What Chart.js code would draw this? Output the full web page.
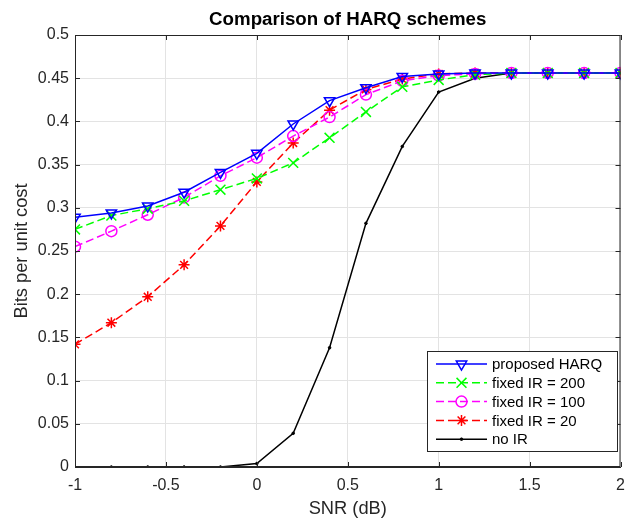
<!DOCTYPE html>
<html>
<head>
<meta charset="utf-8">
<title>Comparison of HARQ schemes</title>
<script src="https://cdn.jsdelivr.net/npm/chart.js@4/dist/chart.umd.min.js"></script>
<style>
  body { margin: 0; background: #fff; }
  #harqChart { display: block; }
</style>
</head>
<body>
<canvas id="harqChart" width="629" height="523"></canvas>
<script>
// SNR sweep (dB)
const snr = [-1, -0.8, -0.6, -0.4, -0.2, 0, 0.2, 0.4, 0.6, 0.8, 1, 1.2, 1.4, 1.6, 1.8, 2];

// bits per unit cost for each scheme
const proposedHarq = [0.289, 0.294, 0.302, 0.318, 0.341, 0.363, 0.397, 0.424, 0.439, 0.452, 0.455, 0.456, 0.456, 0.456, 0.456, 0.456];
const fixedIr200   = [0.275, 0.291, 0.299, 0.308, 0.321, 0.334, 0.352, 0.381, 0.411, 0.440, 0.448, 0.454, 0.456, 0.456, 0.456, 0.456];
const fixedIr100   = [0.255, 0.273, 0.292, 0.312, 0.337, 0.358, 0.383, 0.405, 0.431, 0.447, 0.453, 0.455, 0.456, 0.456, 0.456, 0.456];
const fixedIr20    = [0.142, 0.167, 0.197, 0.234, 0.279, 0.330, 0.375, 0.413, 0.437, 0.449, 0.455, 0.456, 0.456, 0.456, 0.456, 0.456];
const noIr         = [0, 0, 0, 0, 0, 0.004, 0.039, 0.138, 0.282, 0.371, 0.434, 0.450, 0.456, 0.456, 0.456, 0.456];

const seriesNames = ['proposed HARQ', 'fixed IR = 200', 'fixed IR = 100', 'fixed IR = 20', 'no IR'];
const chartTitle = 'Comparison of HARQ schemes';

const FONT = '"Liberation Sans", Arial, Helvetica, sans-serif';
const AXIS_COLOR = '#262626';

// pair up x and y for the linear x axis
function toPoints(ys) {
    return ys.map((y, i) => ({ x: snr[i], y: y }));
}

function lineSet(label, ys, color, style, radius, dashed, rotation) {
    return {
        label: label,
        data: toPoints(ys),
        borderColor: color,
        backgroundColor: color,
        borderWidth: 1.5,
        borderDash: dashed ? [8, 4] : [],
        pointStyle: style,
        pointRadius: radius,
        pointHoverRadius: radius,
        pointRotation: rotation || 0,
        pointBorderColor: color,
        pointBackgroundColor: 'rgba(0,0,0,0)', // hollow markers
        pointBorderWidth: 1.5,
        tension: 0,
        fill: false
    };
}

const datasets = [
    lineSet(seriesNames[0], proposedHarq, '#0000ff', 'triangle', 6, false, 180),
    lineSet(seriesNames[1], fixedIr200, '#00ff00', 'crossRot', 7, true),
    lineSet(seriesNames[2], fixedIr100, '#ff00ff', 'circle', 5.5, true),
    lineSet(seriesNames[3], fixedIr20, '#ff0000', 'star', 5.5, true),
    lineSet(seriesNames[4], noIr, '#000000', 'circle', 1.3, false)
];
// the "no IR" curve uses small filled dots
datasets[4].pointBackgroundColor = '#000000';
datasets[4].pointBorderWidth = 1;

// top/right box edges plus inward tick marks (matlab-ish axes)
const axesBox = {
    id: 'axesBox',
    afterDatasetsDraw(chart) {
        const { ctx, chartArea: a, scales } = chart;
        ctx.save();
        ctx.strokeStyle = AXIS_COLOR;
        ctx.lineWidth = 1;
        ctx.strokeRect(a.left + 0.5, a.top + 0.5, a.right - a.left - 1, a.bottom - a.top - 1);
        const len = 5;
        ctx.beginPath();
        scales.x.ticks.forEach(t => {
            const px = Math.round(scales.x.getPixelForValue(t.value)) + 0.5;
            ctx.moveTo(px, a.bottom); ctx.lineTo(px, a.bottom - len);
            ctx.moveTo(px, a.top); ctx.lineTo(px, a.top + len);
        });
        scales.y.ticks.forEach(t => {
            const py = Math.round(scales.y.getPixelForValue(t.value)) + 0.5;
            ctx.moveTo(a.left, py); ctx.lineTo(a.left + len, py);
            ctx.moveTo(a.right, py); ctx.lineTo(a.right - len, py);
        });
        ctx.stroke();

        // title centred over the plot area, not the whole canvas
        ctx.fillStyle = '#000000';
        ctx.font = 'bold 18.7px ' + FONT;
        ctx.textAlign = 'center';
        ctx.textBaseline = 'middle';
        ctx.fillText(chartTitle, (a.left + a.right) / 2, 19.7);
        ctx.restore();
    }
};

// legend box in the lower right corner of the plot
const boxLegend = {
    id: 'boxLegend',
    afterDraw(chart) {
        const { ctx } = chart;
        const x0 = 427, y0 = 351, w = 190, h = 100;
        const rowH = 18.8;
        ctx.save();
        ctx.fillStyle = '#ffffff';
        ctx.fillRect(x0, y0, w, h);
        ctx.strokeStyle = AXIS_COLOR;
        ctx.lineWidth = 1;
        ctx.strokeRect(x0 + 0.5, y0 + 0.5, w, h);
        chart.data.datasets.forEach((ds, i) => {
            const y = y0 + 13 + i * rowH;
            ctx.strokeStyle = ds.borderColor;
            ctx.lineWidth = ds.borderWidth;
            ctx.setLineDash(ds.borderDash);
            ctx.beginPath();
            ctx.moveTo(x0 + 9, y);
            ctx.lineTo(x0 + 60, y);
            ctx.stroke();
            ctx.setLineDash([]);
            ctx.fillStyle = ds.pointBackgroundColor;
            ctx.lineWidth = ds.pointBorderWidth;
            Chart.helpers.drawPoint(ctx, {
                pointStyle: ds.pointStyle,
                radius: ds.pointRadius,
                rotation: ds.pointRotation,
                borderWidth: ds.pointBorderWidth
            }, x0 + 34.5, y);
            ctx.fillStyle = '#000000';
            ctx.font = '15px ' + FONT;
            ctx.textBaseline = 'middle';
            ctx.textAlign = 'left';
            ctx.fillText(ds.label, x0 + 65, y + 1);
        });
        ctx.restore();
    }
};

const ctx = document.getElementById('harqChart').getContext('2d');
const harqChart = new Chart(ctx, {
    type: 'line',
    data: { datasets: datasets },
    options: {
        responsive: false,
        animation: false,
        layout: { padding: { left: 0, right: 5, top: 35, bottom: 0 } },
        plugins: {
            legend: { display: false },
            tooltip: { enabled: false },
            title: { display: false }
        },
        scales: {
            x: {
                type: 'linear',
                min: -1,
                max: 2,
                ticks: {
                    stepSize: 0.5,
                    color: AXIS_COLOR,
                    padding: 9,
                    maxRotation: 0,
                    font: { family: FONT, size: 16 },
                    callback: v => String(Math.round(v * 10) / 10)
                },
                grid: { color: '#e3e3e3', drawTicks: false },
                border: { color: AXIS_COLOR },
                title: {
                    display: true,
                    text: 'SNR (dB)',
                    color: AXIS_COLOR,
                    font: { family: FONT, size: 18.3, lineHeight: 1.2 },
                    padding: { top: 0, bottom: 3 }
                },
                afterFit(scale) {
                    scale.height = 56;
                    // keep the end labels from shrinking the plot
                    scale.paddingLeft = 0;
                    scale.paddingRight = 0;
                }
            },
            y: {
                min: 0,
                max: 0.5,
                ticks: {
                    stepSize: 0.05,
                    color: AXIS_COLOR,
                    padding: 6,
                    font: { family: FONT, size: 16 },
                    callback: v => String(Math.round(v * 100) / 100)
                },
                grid: { color: '#e3e3e3', drawTicks: false },
                border: { color: AXIS_COLOR },
                title: {
                    display: true,
                    text: 'Bits per unit cost',
                    color: AXIS_COLOR,
                    font: { family: FONT, size: 18.3, lineHeight: 1.2 },
                    padding: { top: 10.5, bottom: 0 }
                },
                afterFit(scale) { scale.width = 75; }
            }
        }
    },
    plugins: [axesBox, boxLegend]
});
</script>
</body>
</html>
